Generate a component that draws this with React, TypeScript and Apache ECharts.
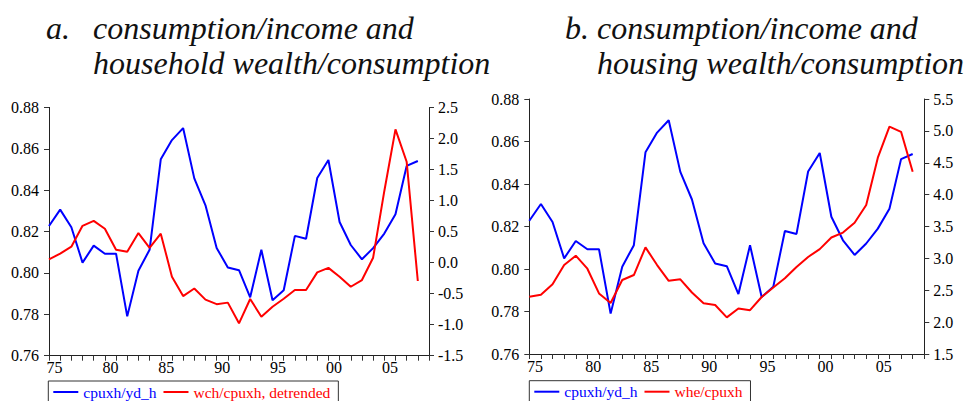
import React, { useEffect, useRef } from "react";
import * as echarts from "echarts";

const years = [
  1975, 1976, 1977, 1978, 1979, 1980, 1981, 1982, 1983, 1984, 1985, 1986,
  1987, 1988, 1989, 1990, 1991, 1992, 1993, 1994, 1995, 1996, 1997, 1998,
  1999, 2000, 2001, 2002, 2003, 2004, 2005, 2006, 2007, 2008,
];

// consumption / income (both panels)
const cpuxhYdH = [
  0.8227, 0.8306, 0.8221, 0.805, 0.8132, 0.8093, 0.8093, 0.779, 0.8011,
  0.8112, 0.8549, 0.8642, 0.87, 0.8457, 0.8327, 0.8121, 0.8026, 0.8013,
  0.7882, 0.8112, 0.7868, 0.7916, 0.8179, 0.8165, 0.8459, 0.8546, 0.8246,
  0.8135, 0.8066, 0.812, 0.819, 0.8284, 0.8517, 0.8541,
];

// household wealth / consumption, detrended (panel a, right axis)
const wchCpuxhDetrended = [
  0.053, 0.144, 0.256, 0.592, 0.672, 0.546, 0.208, 0.173, 0.476, 0.238,
  0.466, -0.227, -0.54, -0.417, -0.597, -0.67, -0.645, -0.978, -0.587,
  -0.872, -0.711, -0.582, -0.442, -0.442, -0.158, -0.085, -0.228, -0.389,
  -0.281, 0.079, 1.15, 2.146, 1.625, -0.297,
];

// housing wealth / consumption (panel b, right axis)
const wheCpuxh = [
  2.397, 2.431, 2.594, 2.896, 3.042, 2.838, 2.45, 2.3, 2.661, 2.739, 3.173,
  2.895, 2.648, 2.671, 2.465, 2.295, 2.269, 2.074, 2.215, 2.187, 2.394,
  2.544, 2.687, 2.865, 3.022, 3.145, 3.328, 3.405, 3.558, 3.837, 4.58,
  5.066, 4.985, 4.36,
];

const titleA1 = "a.";
const titleA2 = "consumption/income and\nhousehold wealth/consumption";
const titleB1 = "b.";
const titleB2 = "consumption/income and";
const titleB3 = "housing wealth/consumption";

const nameC = "cpuxh/yd_h";
const nameA = "wch/cpuxh, detrended";
const nameB = "whe/cpuxh";

const BLUE = "#0000ff";
const RED = "#ff0000";
const FONT = '"Liberation Serif", "Times New Roman", serif';

function pairs(vals: number[]) {
  return years.map((y, i) => [y, vals[i]]);
}

export default function App() {
  const ref = useRef<HTMLDivElement>(null);
  useEffect(() => {
    if (!ref.current) return;
    const chart = echarts.init(ref.current, undefined, { renderer: "svg" });
    const axisLine = {
      show: true,
      onZero: false,
      lineStyle: { color: "#222", width: 1 },
    };
    const axisTick = {
      show: true,
      inside: false,
      length: 5,
      lineStyle: { color: "#333", width: 1 },
    };
    const mainX = (gi: number) => ({
      type: "value",
      gridIndex: gi,
      position: "bottom",
      min: 1975,
      max: 2009,
      interval: 1,
      axisLine,
      axisTick,
      axisLabel: { show: false },
      splitLine: { show: false },
    });
    const labelX = (gi: number) => ({
      type: "value",
      gridIndex: gi,
      position: "bottom",
      min: 1974.5,
      max: 2008.5,
      interval: 0.5,
      axisLine: { show: false, onZero: false },
      axisTick: { show: false },
      splitLine: { show: false },
      axisLabel: {
        show: true,
        margin: 4,
        fontFamily: FONT,
        fontSize: 16,
        color: "#000",
        formatter: (v: number) =>
          Math.abs(v % 5) < 1e-6 ? String(Math.round(v)).slice(2) : "",
      },
    });
    const yAx = (
      gi: number,
      pos: string,
      min: number,
      max: number,
      interval: number,
      dec: number
    ) => ({
      type: "value",
      gridIndex: gi,
      position: pos,
      min,
      max,
      interval,
      axisLine,
      axisTick,
      splitLine: { show: false },
      axisLabel: {
        margin: pos === "left" ? 10 : 9,
        fontFamily: FONT,
        fontSize: 16,
        color: "#000",
        formatter: (v: number) => v.toFixed(dec),
      },
    });
    const line = (
      name: string,
      xi: number,
      yi: number,
      vals: number[],
      color: string
    ) => ({
      type: "line",
      name,
      xAxisIndex: xi,
      yAxisIndex: yi,
      data: pairs(vals),
      symbol: "none",
      lineStyle: { color, width: 2 },
      itemStyle: { color },
    });
    const titleText = (text: string, x: number, y: number) => ({
      type: "text",
      x,
      y,
      style: {
        text,
        font: `italic 32px ${FONT}`,
        fill: "#111",
        lineHeight: 35,
        verticalAlign: "top",
        align: "left",
      },
    });
    const legend = (left: number, top: number, second: string) => ({
      show: true,
      left,
      top,
      orient: "horizontal",
      icon: "rect",
      padding: [3, 8, 3, 5],
      itemGap: 7,
      itemWidth: 25,
      itemHeight: 2,
      borderColor: "#333",
      borderWidth: 1,
      borderRadius: 0,
      selectedMode: false,
      textStyle: { fontFamily: FONT, fontSize: 15.5, lineHeight: 16 },
      data: [
        { name: nameC, textStyle: { color: BLUE } },
        { name: second, textStyle: { color: RED } },
      ],
    });
    chart.setOption({
      animation: false,
      backgroundColor: "#fff",
      grid: [
        { left: 49, top: 107.4, width: 380, height: 248.3 },
        { left: 529.3, top: 99, width: 395, height: 255 },
      ],
      xAxis: [mainX(0), labelX(0), mainX(1), labelX(1)],
      yAxis: [
        yAx(0, "left", 0.76, 0.88, 0.02, 2),
        yAx(0, "right", -1.5, 2.5, 0.5, 1),
        yAx(1, "left", 0.76, 0.88, 0.02, 2),
        yAx(1, "right", 1.5, 5.5, 0.5, 1),
      ],
      legend: [legend(48.3, 381, nameA), legend(529.3, 380.7, nameB)],
      series: [
        line(nameC, 0, 0, cpuxhYdH, BLUE),
        line(nameA, 0, 1, wchCpuxhDetrended, RED),
        line(nameC, 2, 2, cpuxhYdH, BLUE),
        line(nameB, 2, 3, wheCpuxh, RED),
      ],
      graphic: [
        titleText(titleA1, 46, 10),
        titleText(titleA2, 93, 10),
        titleText(titleB1, 565, 10),
        titleText(titleB2 + "\n" + titleB3, 597, 10),
      ],
    });
    return () => chart.dispose();
  }, []);
  return (
    <div
      ref={ref}
      style={{ position: "fixed", left: 0, top: 0, width: 968, height: 401 }}
    />
  );
}
